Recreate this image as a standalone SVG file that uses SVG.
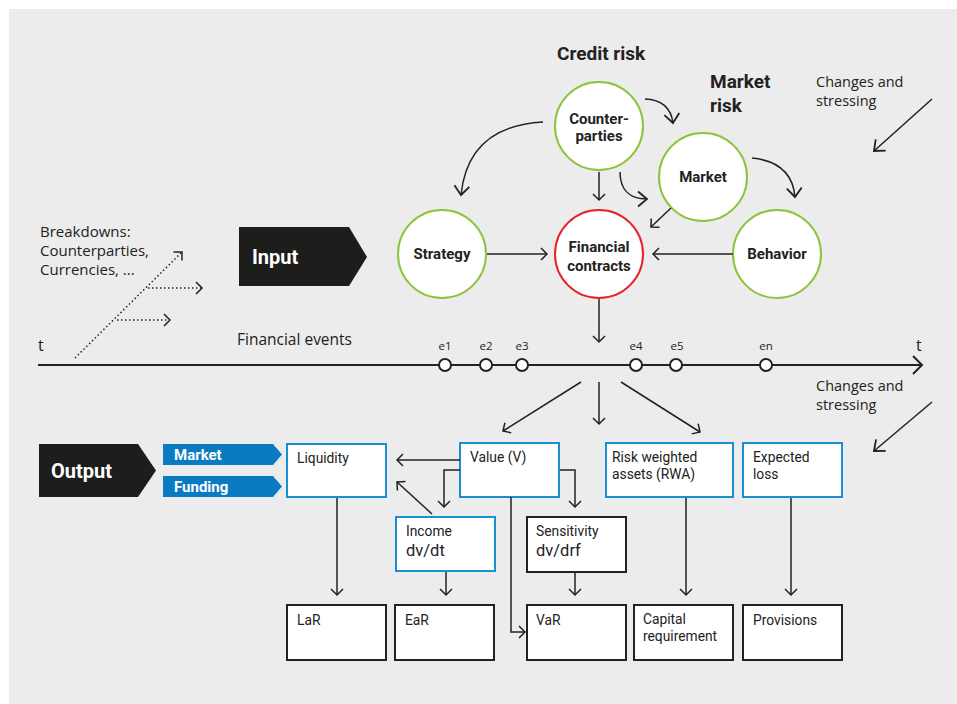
<svg xmlns="http://www.w3.org/2000/svg" width="957" height="704" viewBox="0 0 957 704">
<defs>
<style>
text{font-family:"Open Sans","Liberation Sans",sans-serif;fill:#222}
.b{font-family:Roboto,"Liberation Sans",sans-serif;font-weight:700}
.w{fill:#fff}
.bt{font-family:Roboto,"Liberation Sans",sans-serif;font-size:13.8px}
.bd{font-family:Roboto,"Liberation Sans",sans-serif;font-size:16.5px}
.ln{fill:none;stroke:#222;stroke-width:1.5}
.dot{fill:none;stroke:#222;stroke-width:1.5;stroke-dasharray:1.5 2.5}
.cg{fill:#fff;stroke:#8cc43c;stroke-width:2}
.cr{fill:#fff;stroke:#e4232b;stroke-width:2}
.bb{fill:#fff;stroke:#1b8fd4;stroke-width:2}
.bk{fill:#fff;stroke:#222;stroke-width:2}
.ev{fill:#fff;stroke:#222;stroke-width:2}
</style>
<marker id="big" markerUnits="userSpaceOnUse" viewBox="-12 -10 14 20" markerWidth="14" markerHeight="20" refX="0" refY="0" orient="auto"><path d="M-9,-7.5 L0,0 L-9,7.5" fill="none" stroke="#222" stroke-width="1.8"/></marker>
<marker id="sm" markerUnits="userSpaceOnUse" viewBox="-10 -8 12 16" markerWidth="12" markerHeight="16" refX="0" refY="0" orient="auto"><path d="M-6,-6 L0,0 L-6,6" fill="none" stroke="#222" stroke-width="1.5"/></marker>
<marker id="tl" markerUnits="userSpaceOnUse" viewBox="-12 -10 14 20" markerWidth="14" markerHeight="20" refX="0" refY="0" orient="auto"><path d="M-9,-9 L0,0 L-9,9" fill="none" stroke="#222" stroke-width="2"/></marker>
</defs>
<rect x="9" y="9" width="948" height="695" fill="#ececec"/>

<g id="title-credit"><text x="557" y="60" class="b" font-size="19">Credit risk</text></g>
<g id="title-market"><text x="710" y="88" class="b" font-size="19">Market</text><text x="710" y="112" class="b" font-size="19">risk</text></g>
<g id="changes-top"><text x="816" y="87" font-size="14.5">Changes and</text><text x="816" y="106" font-size="14.5">stressing</text></g>
<g id="changes-bottom"><text x="816" y="391" font-size="14.5">Changes and</text><text x="816" y="410" font-size="14.5">stressing</text></g>
<g id="breakdowns"><text x="40" y="237" font-size="15">Breakdowns:</text><text x="40" y="256" font-size="15">Counterparties,</text><text x="40" y="275" font-size="15">Currencies, ...</text></g>
<g id="fin-events"><text x="237" y="345" font-size="15.5">Financial events</text></g>
<g id="t-left"><text x="38" y="351" font-size="16">t</text></g>
<g id="t-right"><text x="916" y="351" font-size="16">t</text></g>

<g id="input"><polygon points="239,227 349,227 367,257 349,286 239,286" fill="#1d1d1b"/><text x="252" y="264" class="b w" font-size="20">Input</text></g>
<g id="output"><polygon points="39,444 138,444 156,470.5 138,497 39,497" fill="#1d1d1b"/><text x="51" y="478" class="b w" font-size="20">Output</text></g>
<g id="tag-market"><polygon points="163,444 273,444 282,454.5 273,465 163,465" fill="#0b7bc1"/><text x="174" y="460" class="b w" font-size="15">Market</text></g>
<g id="tag-funding"><polygon points="163,476 273,476 282,486.5 273,497 163,497" fill="#0b7bc1"/><text x="174" y="492" class="b w" font-size="15">Funding</text></g>

<g id="counterparties"><circle cx="599" cy="126" r="44" class="cg"/><text x="599" y="124" class="b" font-size="15" text-anchor="middle">Counter-</text><text x="599" y="141" class="b" font-size="15" text-anchor="middle">parties</text></g>
<g id="market"><circle cx="703" cy="177" r="44" class="cg"/><text x="703" y="182" class="b" font-size="15" text-anchor="middle">Market</text></g>
<g id="strategy"><circle cx="442" cy="254" r="44" class="cg"/><text x="442" y="259" class="b" font-size="15" text-anchor="middle">Strategy</text></g>
<g id="financial-contracts"><circle cx="599" cy="254" r="44" class="cr"/><text x="599" y="252" class="b" font-size="15" text-anchor="middle">Financial</text><text x="599" y="271" class="b" font-size="15" text-anchor="middle">contracts</text></g>
<g id="behavior"><circle cx="777" cy="254" r="44" class="cg"/><text x="777" y="259" class="b" font-size="15" text-anchor="middle">Behavior</text></g>

<g id="liquidity"><rect x="287" y="444" width="99" height="53" class="bb"/><text x="297" y="463" class="bt">Liquidity</text></g>
<g id="value"><rect x="460" y="443" width="99" height="54" class="bb"/><text x="470" y="462" class="bt">Value (V)</text></g>
<g id="rwa"><rect x="606" y="443" width="127" height="54" class="bb"/><text x="612" y="462" class="bt">Risk weighted</text><text x="612" y="478.5" class="bt">assets (RWA)</text></g>
<g id="expected-loss"><rect x="743" y="443" width="99" height="54" class="bb"/><text x="753" y="462" class="bt">Expected</text><text x="753" y="478.5" class="bt">loss</text></g>
<g id="income"><rect x="396" y="517" width="99" height="54" class="bb"/><text x="406" y="536" class="bt">Income</text><text x="406" y="556" class="bd">dv/dt</text></g>
<g id="sensitivity"><rect x="527" y="517" width="99" height="55" class="bk"/><text x="536" y="536" class="bt">Sensitivity</text><text x="536" y="556" class="bd">dv/drf</text></g>
<g id="lar"><rect x="287" y="605" width="99" height="55" class="bk"/><text x="297" y="625" class="bt">LaR</text></g>
<g id="ear"><rect x="395" y="605" width="99" height="55" class="bk"/><text x="405" y="625" class="bt">EaR</text></g>
<g id="var"><rect x="527" y="605" width="99" height="55" class="bk"/><text x="536" y="625" class="bt">VaR</text></g>
<g id="capital"><rect x="634" y="605" width="99" height="55" class="bk"/><text x="643" y="624" class="bt">Capital</text><text x="643" y="640.5" class="bt">requirement</text></g>
<g id="provisions"><rect x="743" y="605" width="99" height="55" class="bk"/><text x="753" y="625" class="bt">Provisions</text></g>

<g id="connectors">
<path d="M543,122 Q468,126 461,195" class="ln" marker-end="url(#big)"/>
<path d="M645,99 Q670,100 673,123" class="ln" marker-end="url(#big)"/>
<path d="M752,158 Q792,162 795,197" class="ln" marker-end="url(#big)"/>
<path d="M620,172 C620,190 630,199 647,199" class="ln" marker-end="url(#big)"/>
<path d="M599,172 L599,200" class="ln" marker-end="url(#sm)"/>
<path d="M671,208 L651,227" class="ln" marker-end="url(#sm)"/>
<path d="M487,254 L547,254" class="ln" marker-end="url(#sm)"/>
<path d="M733,254 L653,254" class="ln" marker-end="url(#sm)"/>
<path d="M599,299 L599,342" class="ln" marker-end="url(#sm)"/>
<path d="M38,365 L922,365" fill="none" stroke="#222" stroke-width="2" marker-end="url(#tl)"/>
<circle cx="445" cy="365" r="6" class="ev"/><circle cx="486" cy="365" r="6" class="ev"/><circle cx="522" cy="365" r="6" class="ev"/>
<circle cx="636" cy="365" r="6" class="ev"/><circle cx="676" cy="365" r="6" class="ev"/><circle cx="766" cy="365" r="6" class="ev"/>
<text x="445" y="350" font-size="11.5" text-anchor="middle">e1</text><text x="486" y="350" font-size="11.5" text-anchor="middle">e2</text><text x="522" y="350" font-size="11.5" text-anchor="middle">e3</text>
<text x="636" y="350" font-size="11.5" text-anchor="middle">e4</text><text x="677" y="350" font-size="11.5" text-anchor="middle">e5</text><text x="766" y="350" font-size="11.5" text-anchor="middle">en</text>
<path d="M75,358 L182,252" class="dot" marker-end="url(#sm)"/>
<path d="M148,288 L202,288" class="dot" marker-end="url(#sm)"/>
<path d="M117,320 L170,320" class="dot" marker-end="url(#sm)"/>
<path d="M932,99 L874,151" class="ln" marker-end="url(#big)"/>
<path d="M932,402 L874,451" class="ln" marker-end="url(#big)"/>
<path d="M581,382 L503,431" class="ln" marker-end="url(#sm)"/>
<path d="M599,382 L599,424" class="ln" marker-end="url(#sm)"/>
<path d="M621,382 L700,432" class="ln" marker-end="url(#sm)"/>
<path d="M460,460 L397,460" class="ln" marker-end="url(#sm)"/>
<path d="M432,514 L397,482" class="ln" marker-end="url(#sm)"/>
<path d="M460,470 L444,470 L444,507" class="ln" marker-end="url(#sm)"/>
<path d="M560,470 L575,470 L575,507" class="ln" marker-end="url(#sm)"/>
<path d="M511,497 L511,632 L525,632" class="ln" marker-end="url(#sm)"/>
<path d="M337,498 L337,595" class="ln" marker-end="url(#sm)"/>
<path d="M446,572 L446,595" class="ln" marker-end="url(#sm)"/>
<path d="M575,573 L575,595" class="ln" marker-end="url(#sm)"/>
<path d="M686,498 L686,595" class="ln" marker-end="url(#sm)"/>
<path d="M791,498 L791,595" class="ln" marker-end="url(#sm)"/>
</g>
</svg>
